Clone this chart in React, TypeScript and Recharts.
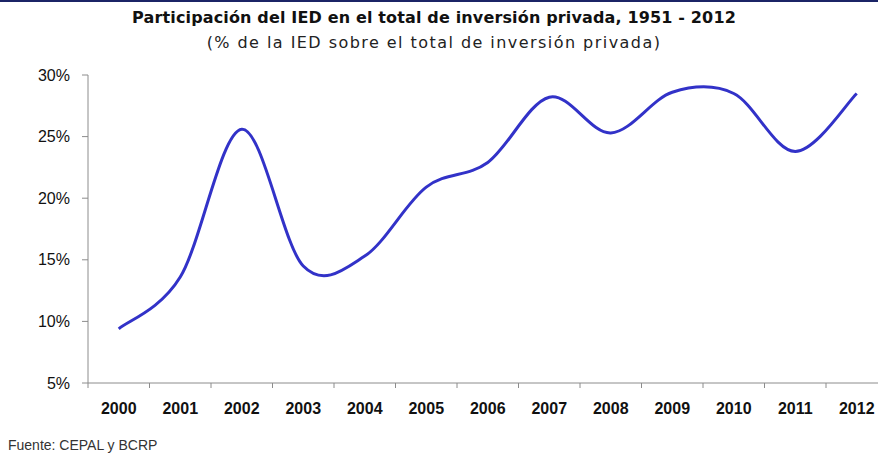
import { LineChart, Line, XAxis, YAxis } from "recharts";

const years = ["2000", "2001", "2002", "2003", "2004", "2005", "2006", "2007", "2008", "2009", "2010", "2011", "2012"];
const iedShare = [9.4, 13.6, 25.6, 14.5, 15.3, 20.9, 22.9, 28.2, 25.3, 28.6, 28.5, 23.8, 28.5];
const yTicks = [5, 10, 15, 20, 25, 30];

const data = years.map((y, i) => ({ year: y, ied: iedShare[i] }));

const FONT = "'Liberation Sans', Arial, sans-serif";
const TITLE_FONT = "'DejaVu Sans', sans-serif";
const CHART_W = 900;
const Y_AXIS_W = 88;
const RIGHT = 12.5;
const STEP = (CHART_W - Y_AXIS_W - RIGHT) / years.length;

// suavizado tipo Excel (Catmull-Rom)
function smoothCurve(context: any) {
  let pts: number[][] = [];
  return {
    areaStart() {},
    areaEnd() {},
    lineStart() {
      pts = [];
    },
    point(x: number, y: number) {
      pts.push([+x, +y]);
    },
    lineEnd() {
      const n = pts.length;
      if (!n) return;
      context.moveTo(pts[0][0], pts[0][1]);
      for (let i = 0; i < n - 1; i++) {
        const p0 = pts[Math.max(i - 1, 0)];
        const p1 = pts[i];
        const p2 = pts[i + 1];
        const p3 = pts[Math.min(i + 2, n - 1)];
        context.bezierCurveTo(
          p1[0] + (p2[0] - p0[0]) / 6,
          p1[1] + (p2[1] - p0[1]) / 6,
          p2[0] - (p3[0] - p1[0]) / 6,
          p2[1] - (p3[1] - p1[1]) / 6,
          p2[0],
          p2[1]
        );
      }
    },
  };
}

const YearTick = ({ x, y, payload }: any) => (
  <g>
    <line x1={x - STEP / 2} y1={y} x2={x - STEP / 2} y2={y + 5} stroke="#8c8c8c" />
    <text x={x} y={y + 31} textAnchor="middle" fontFamily={FONT} fontWeight="bold" fontSize={16} fill="#111">
      {payload.value}
    </text>
  </g>
);

export default function App() {
  return (
    <div style={{ position: "absolute", left: 0, top: 0, width: 878, height: 455, overflow: "hidden", background: "#fff", fontFamily: FONT }}>
      <div style={{ position: "absolute", left: 0, top: 0, width: 878, height: 2, background: "#1b2466" }} />
      <div style={{ position: "absolute", left: 0, top: 8, width: 868, textAlign: "center", fontFamily: TITLE_FONT, fontSize: 16, fontWeight: "bold", letterSpacing: 0.15, color: "#111" }}>
        Participación del IED en el total de inversión privada, 1951 - 2012
      </div>
      <div style={{ position: "absolute", left: 0, top: 33, width: 868, textAlign: "center", fontFamily: TITLE_FONT, fontSize: 16, letterSpacing: 1.45, color: "#222" }}>
        (% de la IED sobre el total de inversión privada)
      </div>
      <div style={{ position: "absolute", left: 0, top: 0 }}>
        <LineChart width={CHART_W} height={455} data={data} margin={{ top: 75, right: RIGHT, bottom: 32, left: 0 }}>
          <XAxis
            dataKey="year"
            height={40}
            padding={{ left: STEP / 2, right: STEP / 2 }}
            axisLine={{ stroke: "#8c8c8c" }}
            tickLine={false}
            tickSize={0}
            tickMargin={0}
            interval={0}
            tick={<YearTick />}
          />
          <YAxis
            width={Y_AXIS_W}
            domain={[5, 30]}
            ticks={yTicks}
            interval={0}
            tickFormatter={(v: number) => `${v}%`}
            axisLine={{ stroke: "#8c8c8c" }}
            tickLine={{ stroke: "#8c8c8c" }}
            tickSize={6}
            tickMargin={12}
            tick={{ fontFamily: FONT, fontSize: 16, fill: "#111" }}
          />
          <Line
            dataKey="ied"
            type={smoothCurve as any}
            stroke="#3232c8"
            strokeWidth={3}
            dot={false}
            isAnimationActive={false}
          />
        </LineChart>
      </div>
      <div style={{ position: "absolute", left: 8, top: 437, fontSize: 14, color: "#333" }}>Fuente: CEPAL y BCRP</div>
    </div>
  );
}
